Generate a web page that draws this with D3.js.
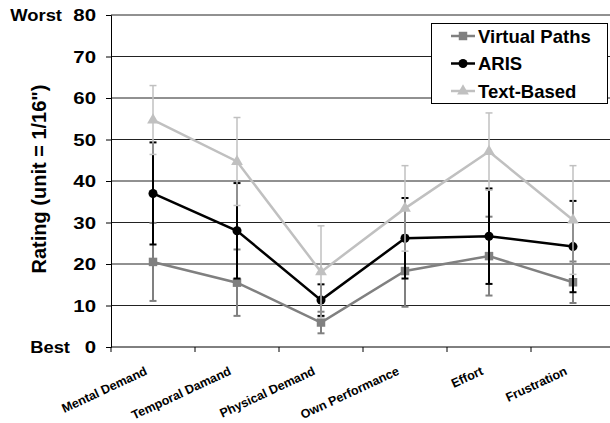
<!DOCTYPE html>
<html>
<head>
<meta charset="utf-8">
<script src="https://cdn.jsdelivr.net/npm/d3@7"></script>
<style>
  html, body { margin: 0; padding: 0; background: #fff; }
  svg { display: block; font-family: "Liberation Sans", Arial, sans-serif; font-weight: bold; }
</style>
</head>
<body>
<svg id="chart" width="610" height="423"></svg>
<script>
const categories = ["Mental Demand", "Temporal Damand", "Physical Demand", "Own Performance", "Effort", "Frustration"];
const seriesNames = ["Virtual Paths", "ARIS", "Text-Based"];
const virtualPaths = [20.5, 15.5, 5.9, 18.3, 21.9, 15.6];
const virtualPathsErr = [9.4, 8.0, 2.6, 8.6, 9.5, 5.0];
const aris = [37.0, 28.0, 11.3, 26.2, 26.7, 24.2];
const arisErr = [12.3, 11.5, 3.8, 9.7, 11.5, 11.0];
const textBased = [54.7, 44.7, 18.1, 33.4, 47.1, 30.6];
const textBasedErr = [8.3, 10.6, 11.1, 10.3, 9.3, 13.1];
const yTicks = [0, 10, 20, 30, 40, 50, 60, 70, 80];

const svg = d3.select("#chart");
const pLeft = 111, pRight = 615, pTop = 15, pBottom = 347;

const x = d3.scaleBand().domain(categories).range([pLeft, pRight]).padding(0);
const cx = c => x(c) + x.bandwidth() / 2;
const y = d3.scaleLinear().domain([0, 80]).range([pBottom, pTop]);

// gridlines
svg.append("g").selectAll("line").data(yTicks.filter(t => t > 0)).join("line")
  .attr("x1", pLeft).attr("x2", pRight)
  .attr("y1", d => y(d)).attr("y2", d => y(d))
  .attr("stroke", "#222").attr("stroke-width", 1);

// y axis (line + ticks via d3 axis, labels drawn with horizontal stretch)
const yAxis = d3.axisLeft(y).tickValues(yTicks).tickSize(5).tickFormat("");
const yg = svg.append("g").attr("transform", `translate(${pLeft},0)`).call(yAxis);
yg.select(".domain").attr("stroke", "#000");
yg.selectAll(".tick line").attr("stroke", "#000");
svg.append("g").selectAll("text").data(yTicks).join("text")
  .attr("transform", d => `translate(96,${y(d)}) scale(1.2,1)`)
  .attr("dy", "0.36em").attr("text-anchor", "end").attr("font-size", 17)
  .text(d => d3.format("d")(d));

// x axis
svg.append("line").attr("x1", pLeft).attr("x2", pRight).attr("y1", pBottom).attr("y2", pBottom)
  .attr("stroke", "#000");
const boundaries = categories.map(c => x(c)).concat([pRight]);
svg.append("g").selectAll("line").data(boundaries).join("line")
  .attr("x1", d => d).attr("x2", d => d).attr("y1", pBottom).attr("y2", pBottom + 5)
  .attr("stroke", "#000");

svg.append("g").selectAll("text").data(categories).join("text")
  .attr("transform", d => `translate(${cx(d) - 5},${pBottom + 27}) rotate(-25)`)
  .attr("text-anchor", "end").attr("font-size", 12.5).text(d => d);

// Worst / Best
svg.append("text").attr("transform", `translate(62,${y(80)}) scale(1.15,1)`).attr("dy", "0.36em")
  .attr("text-anchor", "end").attr("font-size", 16).text("Worst");
svg.append("text").attr("transform", `translate(70,${y(0)}) scale(1.15,1)`).attr("dy", "0.36em")
  .attr("text-anchor", "end").attr("font-size", 16).text("Best");

// y title
svg.append("text").attr("transform", "translate(46,179) rotate(-90)")
  .attr("text-anchor", "middle").attr("font-size", 20).text("Rating (unit = 1/16\")");

const series = [
  { name: seriesNames[0], values: virtualPaths, err: virtualPathsErr, color: "#808080", marker: "square", ebw: 2 },
  { name: seriesNames[1], values: aris, err: arisErr, color: "#000000", marker: "circle", ebw: 2 },
  { name: seriesNames[2], values: textBased, err: textBasedErr, color: "#c0c0c0", marker: "triangle", ebw: 1.5 }
];

const symbolFor = m => m === "square" ? d3.symbol(d3.symbolSquare, 72)
  : m === "circle" ? d3.symbol(d3.symbolCircle, 64)
  : d3.symbol(d3.symbolTriangle, 60);

const line = d3.line().x((d, i) => cx(categories[i])).y(d => y(d));

series.forEach(s => {
  const g = svg.append("g");
  const eb = g.append("g").selectAll("g").data(s.values.map((v, i) => ({ v, e: s.err[i], c: categories[i] }))).join("g");
  eb.append("line").attr("x1", d => cx(d.c)).attr("x2", d => cx(d.c))
    .attr("y1", d => y(d.v - d.e)).attr("y2", d => y(d.v + d.e))
    .attr("stroke", s.color).attr("stroke-width", s.ebw);
  [1, -1].forEach(sign => {
    eb.append("line").attr("x1", d => cx(d.c) - 3.5).attr("x2", d => cx(d.c) + 3.5)
      .attr("y1", d => y(d.v + sign * d.e)).attr("y2", d => y(d.v + sign * d.e))
      .attr("stroke", s.color).attr("stroke-width", s.ebw);
  });
  g.append("path").attr("d", line(s.values)).attr("fill", "none")
    .attr("stroke", s.color).attr("stroke-width", 2.5);
  g.append("g").selectAll("path").data(s.values).join("path")
    .attr("transform", (d, i) => `translate(${cx(categories[i])},${y(d)})`)
    .attr("d", symbolFor(s.marker)()).attr("fill", s.color);
});

// legend
const lg = svg.append("g");
lg.append("rect").attr("x", 431.5).attr("y", 23.5).attr("width", 176).attr("height", 80)
  .attr("fill", "#fff").attr("stroke", "#000").attr("stroke-width", 1);
const rowY = [36, 63.5, 91];
series.forEach((s, i) => {
  lg.append("line").attr("x1", 451).attr("x2", 475).attr("y1", rowY[i]).attr("y2", rowY[i])
    .attr("stroke", s.color).attr("stroke-width", 2.5);
  lg.append("path").attr("transform", `translate(463,${rowY[i]})`)
    .attr("d", symbolFor(s.marker)()).attr("fill", s.color);
  lg.append("text").attr("x", 478).attr("y", rowY[i]).attr("dy", "0.36em")
    .attr("font-size", 18.5).text(s.name);
});
</script>
</body>
</html>
